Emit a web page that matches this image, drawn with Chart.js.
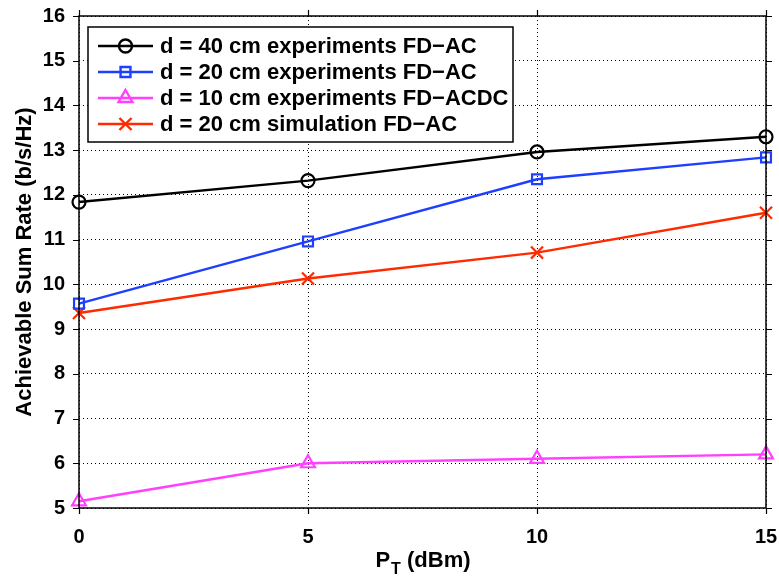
<!DOCTYPE html>
<html><head><meta charset="utf-8">
<script src="https://cdn.jsdelivr.net/npm/chart.js@4/dist/chart.umd.min.js"></script>
<style>html,body{margin:0;padding:0;background:#fff;}#wrap{width:779px;height:582px;position:relative;}</style>
</head><body><div id="wrap"><canvas id="c" width="779" height="582"></canvas></div>
<script>
const powerDbm = [0, 5, 10, 15];
const d40Exp = [11.84, 12.32, 12.96, 13.30];
const d20Exp = [9.57, 10.96, 12.35, 12.84];
const d10Exp = [5.15, 6.00, 6.10, 6.20];
const d20Sim = [9.36, 10.13, 10.71, 11.60];
const seriesLabels = ['d = 40 cm experiments FD\u2212AC','d = 20 cm experiments FD\u2212AC','d = 10 cm experiments FD\u2212ACDC','d = 20 cm simulation FD\u2212AC'];
const xTicks = [0, 5, 10, 15];
const yTicks = [5,6,7,8,9,10,11,12,13,14,15,16];
const yTitle = 'Achievable Sum Rate (b/s/Hz)';

const FONT = '"Liberation Sans", Arial, Helvetica, sans-serif';
const styles = [
  {color:'#000000', style:'circle', r:6.5},
  {color:'#1f3fff', style:'rect', r:7},
  {color:'#ff40ff', style:'triangle', r:8},
  {color:'#ff2a00', style:'crossRot', r:8.5}
];
const seriesData = [d40Exp, d20Exp, d10Exp, d20Sim];

const datasets = seriesData.map((vals,i)=>({
  label: seriesLabels[i],
  data: powerDbm.map((x,j)=>({x:x,y:vals[j]})),
  borderColor: styles[i].color,
  backgroundColor: 'rgba(0,0,0,0)',
  borderWidth: 2.4,
  pointStyle: styles[i].style,
  pointRadius: styles[i].r,
  pointBorderWidth: 2.2,
  pointBorderColor: styles[i].color,
  pointBackgroundColor: 'rgba(0,0,0,0)',
  tension: 0,
  clip: false
}));

const decor = {
  id:'decor',
  afterDatasetsDraw(chart){
    const ctx = chart.ctx, a = chart.chartArea;
    const xs = chart.scales.x, ys = chart.scales.y;
    ctx.save();
    ctx.strokeStyle = '#000'; ctx.lineWidth = 1.5;
    ctx.strokeRect(a.left, a.top, a.right-a.left, a.bottom-a.top);
    ctx.lineWidth = 1.2;
    const tl = 6;
    ctx.beginPath();
    xTicks.forEach(v=>{const p=Math.round(xs.getPixelForValue(v))+0.5;
      ctx.moveTo(p,a.bottom); ctx.lineTo(p,a.bottom+tl);
      ctx.moveTo(p,a.top); ctx.lineTo(p,a.top-tl);});
    yTicks.forEach(v=>{const p=Math.round(ys.getPixelForValue(v))+0.5;
      ctx.moveTo(a.left,p); ctx.lineTo(a.left-tl,p);
      ctx.moveTo(a.right,p); ctx.lineTo(a.right+tl,p);});
    ctx.stroke();
    ctx.restore();
  },
  afterDraw(chart){
    const ctx = chart.ctx, a = chart.chartArea;
    ctx.save();
    // legend
    const bx=88, by=27, bw=425, bh=115;
    ctx.fillStyle='#fff'; ctx.fillRect(bx,by,bw,bh);
    ctx.strokeStyle='#000'; ctx.lineWidth=1.5; ctx.strokeRect(bx,by,bw,bh);
    ctx.textBaseline='middle'; ctx.textAlign='left';
    chart.data.datasets.forEach((ds,i)=>{
      const y = 46 + i*26;
      ctx.strokeStyle = ds.borderColor; ctx.lineWidth = 2.4;
      ctx.beginPath(); ctx.moveTo(98,y); ctx.lineTo(153,y); ctx.stroke();
      ctx.fillStyle = 'rgba(0,0,0,0)';
      Chart.helpers.drawPoint(ctx,{pointStyle:ds.pointStyle, radius:ds.pointRadius, rotation:0, borderWidth:2.2}, 125.5, y);
      ctx.fillStyle='#000';
      ctx.font = 'bold 22px '+FONT;
      ctx.fillText(ds.label, 160, y+1);
    });
    // y title
    ctx.fillStyle='#000';
    ctx.font='bold 22px '+FONT;
    ctx.translate(25,(a.top+a.bottom)/2);
    ctx.rotate(-Math.PI/2);
    ctx.textAlign='center'; ctx.textBaseline='middle';
    ctx.fillText(yTitle,0,0);
    ctx.setTransform(1,0,0,1,0,0);
    // x title with subscript
    const cx=(a.left+a.right)/2, base=567;
    ctx.textBaseline='alphabetic'; ctx.textAlign='left';
    ctx.font='bold 22px '+FONT; const wP=ctx.measureText('P').width;
    ctx.font='bold 16px '+FONT; const wT=ctx.measureText('T').width;
    ctx.font='bold 22px '+FONT; const wR=ctx.measureText(' (dBm)').width;
    let x0 = cx-(wP+wT+wR)/2;
    ctx.fillText('P',x0,base);
    ctx.font='bold 16px '+FONT; ctx.fillText('T',x0+wP+1,base+7);
    ctx.font='bold 22px '+FONT; ctx.fillText(' (dBm)',x0+wP+wT+1,base);
    ctx.restore();
  }
};

new Chart(document.getElementById('c'),{
  type:'line',
  data:{datasets},
  options:{
    responsive:false, animation:false, devicePixelRatio:1,
    layout:{padding:{top:16,right:13,left:0,bottom:0}},
    plugins:{legend:{display:false},tooltip:{enabled:false}},
    scales:{
      x:{type:'linear',min:0,max:15,
        afterFit(s){s.height=74; s.paddingLeft=0; s.paddingRight=0;},
        afterBuildTicks(s){s.ticks=xTicks.map(v=>({value:v}));},
        ticks:{color:'#000',font:{family:FONT,size:20,weight:'bold'},padding:17,maxRotation:0},
        grid:{color:'#000',lineWidth:1,drawTicks:false},
        border:{display:false,dash:[1,3]}
      },
      y:{type:'linear',min:5,max:16,
        afterFit(s){s.width=79; s.paddingTop=0; s.paddingBottom=0;},
        afterBuildTicks(s){s.ticks=yTicks.map(v=>({value:v}));},
        ticks:{color:'#000',font:{family:FONT,size:20,weight:'bold'},padding:14},
        grid:{color:'#000',lineWidth:1,drawTicks:false},
        border:{display:false,dash:[1,3]}
      }
    }
  },
  plugins:[decor]
});
</script></body></html>
